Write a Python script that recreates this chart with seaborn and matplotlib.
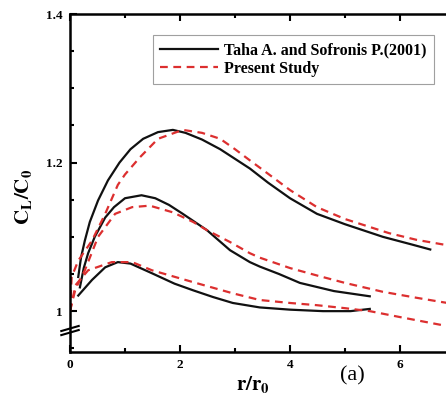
import numpy as np
import pandas as pd
import matplotlib
matplotlib.use("Agg")
import matplotlib.pyplot as plt
from matplotlib.ticker import MultipleLocator
from matplotlib.lines import Line2D
import seaborn as sb

### DATA (r/r0, CL/C0)

# Taha A. and Sofronis P.(2001) - black solid
taha_top_r = [0.15, 0.20, 0.27, 0.36, 0.51, 0.69, 0.90, 1.10, 1.33, 1.60, 1.87, 2.10, 2.40, 2.73,
              3.00, 3.27, 3.60, 4.00, 4.49, 5.00, 5.69, 6.20, 6.55]
taha_top_c = [1.046, 1.072, 1.095, 1.120, 1.149, 1.176, 1.200, 1.218, 1.232, 1.241, 1.244, 1.240, 1.231,
              1.218, 1.205, 1.192, 1.173, 1.152, 1.131, 1.117, 1.100, 1.090, 1.083]

taha_mid_r = [0.18, 0.25, 0.33, 0.45, 0.64, 0.80, 1.00, 1.30, 1.55, 1.80, 2.05, 2.49, 2.91, 3.27,
              3.45, 3.80, 4.18, 4.80, 5.45]
taha_mid_c = [1.032, 1.058, 1.078, 1.100, 1.126, 1.140, 1.152, 1.156, 1.152, 1.143, 1.131, 1.109, 1.082,
              1.066, 1.060, 1.050, 1.038, 1.027, 1.020]

taha_low_r = [0.15, 0.40, 0.64, 0.87, 1.10, 1.49, 1.90, 2.24, 2.60, 2.96, 3.45, 4.00, 4.60, 5.10, 5.45]
taha_low_c = [1.021, 1.042, 1.059, 1.066, 1.064, 1.051, 1.037, 1.028, 1.019, 1.011, 1.005, 1.002, 1.000,
              1.000, 1.003]

# Present Study - red dashed
study_top_r = [0.0, 0.03, 0.15, 0.40, 0.64, 0.87, 1.00, 1.27, 1.60, 2.05, 2.40, 2.73, 3.00, 3.27,
               3.60, 4.00, 4.49, 5.00, 5.80, 6.30, 6.84, 7.20]
study_top_c = [1.000, 1.046, 1.068, 1.095, 1.131, 1.170, 1.184, 1.207, 1.232, 1.244, 1.240, 1.232, 1.218,
               1.203, 1.185, 1.163, 1.140, 1.124, 1.105, 1.096, 1.089, 1.084]

study_mid_r = [0.0, 0.10, 0.27, 0.51, 0.82, 1.13, 1.45, 1.87, 2.24, 2.49, 2.91, 3.27, 3.45, 4.00,
               4.49, 5.00, 5.69, 6.30, 6.78, 7.20]
study_mid_c = [1.000, 1.030, 1.055, 1.100, 1.131, 1.140, 1.142, 1.133, 1.120, 1.109, 1.093, 1.078, 1.072,
               1.058, 1.048, 1.038, 1.026, 1.018, 1.012, 1.007]

study_low_r = [0.0, 0.10, 0.33, 0.76, 1.13, 1.49, 2.24, 2.96, 3.45, 4.00, 4.49, 5.00, 5.45, 6.00,
               6.78, 7.20]
study_low_c = [1.000, 1.035, 1.055, 1.066, 1.066, 1.055, 1.039, 1.024, 1.015, 1.011, 1.008, 1.004, 1.000,
               0.992, 0.981, 0.975]

legend_labels = ["Taha A. and Sofronis P.(2001)", "Present Study"]

### PLOT
plt.rcParams["font.family"] = ["Liberation Serif", "DejaVu Serif"]
plt.rcParams["mathtext.fontset"] = "stix"

fig = plt.figure(figsize=(4.46, 3.98), dpi=100)
ax = fig.add_axes([70 / 446, 46 / 398, 396 / 446, 338 / 398])

black = "#111111"
red = "#dc2f2f"
dash = (0, (3.5, 2.5))

for r, c in [(taha_top_r, taha_top_c), (taha_mid_r, taha_mid_c), (taha_low_r, taha_low_c)]:
    sb.lineplot(x=r, y=c, ax=ax, sort=False, color=black, linewidth=1.6, estimator=None)

for r, c in [(study_top_r, study_top_c), (study_mid_r, study_mid_c), (study_low_r, study_low_c)]:
    sb.lineplot(x=r, y=c, ax=ax, sort=False, color=red, linewidth=1.6, estimator=None,
                linestyle=dash)

ax.set_xlim(0, 7.2)
ax.set_ylim(0.945, 1.4)

ax.set_xticks([0, 2, 4, 6])
ax.set_xticklabels(["0", "2", "4", "6"])
ax.xaxis.set_minor_locator(MultipleLocator(1))
ax.set_yticks([1.0, 1.2, 1.4])
ax.set_yticklabels(["1", "1.2", "1.4"])
ax.yaxis.set_minor_locator(MultipleLocator(0.05))

ax.tick_params(which="both", direction="in", top=True, width=1.5, labelsize=9.5, pad=5)
ax.tick_params(which="major", length=5)
ax.tick_params(which="minor", length=3)
for lab in ax.get_xticklabels() + ax.get_yticklabels():
    lab.set_fontweight("bold")

for s in ax.spines.values():
    s.set_linewidth(1.8)

ax.set_xlabel(r"$\mathbf{r/r_0}$", fontsize=15)
ax.set_ylabel(r"$\mathbf{C_L/C_0}$", fontsize=15)
ax.xaxis.set_label_coords((253 - 70) / 396, -0.065)
ax.yaxis.set_label_coords(-0.09, (352 - 197) / 338)

# axis break marks
for dy in (0, 0.012):
    ax.plot([-0.022, 0.022], [0.0500 + dy, 0.0650 + dy], transform=ax.transAxes, color="black",
            linewidth=1.5, clip_on=False)

fig.text(352 / 446, 1 - 376 / 398, "(a)", fontsize=16, ha="center", va="center")

handles = [Line2D([], [], color=black, linewidth=1.6),
           Line2D([], [], color=red, linewidth=1.6, linestyle=dash)]
leg = ax.legend(handles, legend_labels, loc="upper left", bbox_to_anchor=((153 - 70) / 396, (352 - 35) / 338),
                frameon=True, fancybox=False, edgecolor="#888888", handlelength=3.6, handletextpad=0.4,
                prop={"weight": "bold", "size": 11.5}, borderpad=0.45, labelspacing=0.15,
                borderaxespad=0)
leg.get_frame().set_linewidth(0.8)

plt.savefig("out.png", dpi=100)
